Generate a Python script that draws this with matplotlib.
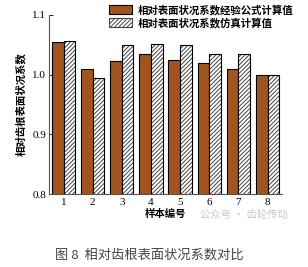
import numpy as np
import matplotlib
matplotlib.use("Agg")
from matplotlib import pyplot as plt
from matplotlib.patches import Patch

plt.rcParams['font.family'] = ['Noto Sans CJK SC', 'DejaVu Sans']
plt.rcParams['hatch.linewidth'] = 0.7

# data
samples = ['1', '2', '3', '4', '5', '6', '7', '8']
empirical = [1.054, 1.010, 1.023, 1.035, 1.025, 1.019, 1.010, 1.000]
simulated = [1.057, 0.995, 1.049, 1.052, 1.049, 1.035, 1.034, 1.000]
label_emp = '相对表面状况系数经验公式计算值'
label_sim = '相对表面状况系数仿真计算值'

fig = plt.figure(figsize=(3.08, 2.67), dpi=100)
ax = fig.add_axes([0.159, 0.273, 0.757, 0.671])

x = np.arange(1, len(samples) + 1)
w = 0.4
brown = '#A2541F'
hatch = '////////'

ax.bar(x - w / 2, empirical, w, color=brown, edgecolor='black', linewidth=0.8)
# hatched bars: grey hatch first, then black outline on top
ax.bar(x + w / 2, simulated, w, color='white', edgecolor='#444444', hatch=hatch, linewidth=0)
ax.bar(x + w / 2, simulated, w, color='none', edgecolor='black', linewidth=0.8)

ax.set_xlim(0.5, 8.5)
ax.set_ylim(0.8, 1.1)
ax.set_yticks([0.8, 0.9, 1.0, 1.1])
ax.set_yticklabels(['0.8', '0.9', '1.0', '1.1'], family='Liberation Serif', fontsize=8)
ax.set_xticks(x)
ax.set_xticklabels(samples, family='Liberation Serif', fontsize=8)
ax.tick_params(axis='y', direction='in', length=3, width=0.6, pad=2)
ax.tick_params(axis='x', length=0, pad=3)
for s in ['top', 'right']:
    ax.spines[s].set_visible(False)
for s in ['left', 'bottom']:
    ax.spines[s].set_color('#555555')
    ax.spines[s].set_linewidth(0.8)

ax.set_xlabel('样本编号', fontsize=7.5, fontweight='bold', labelpad=1)
ax.set_ylabel('相对齿根表面状况系数', fontsize=7.5, fontweight='bold', labelpad=4)

handles = [Patch(facecolor=brown, edgecolor='black', linewidth=0.8, label=label_emp),
           Patch(facecolor='white', edgecolor='#444444', hatch=hatch, linewidth=0.8, label=label_sim)]
fig.legend(handles=handles, loc='upper left', bbox_to_anchor=(0.33, 1.01), frameon=False,
           prop={'weight': 'bold', 'size': 7.5}, handlelength=2.2, handleheight=1.0,
           handletextpad=0.6, labelspacing=0.2, borderpad=0.2)

fig.text(0.935, 0.196, '公众号 · 齿轮传动', fontsize=7.5, color='#c8c8c8', ha='right', va='center')
fig.text(0.485, 0.045, '图 8  相对齿根表面状况系数对比', fontsize=9.5, color='#444444', ha='center', va='center')

fig.savefig('out.png', dpi=100)
